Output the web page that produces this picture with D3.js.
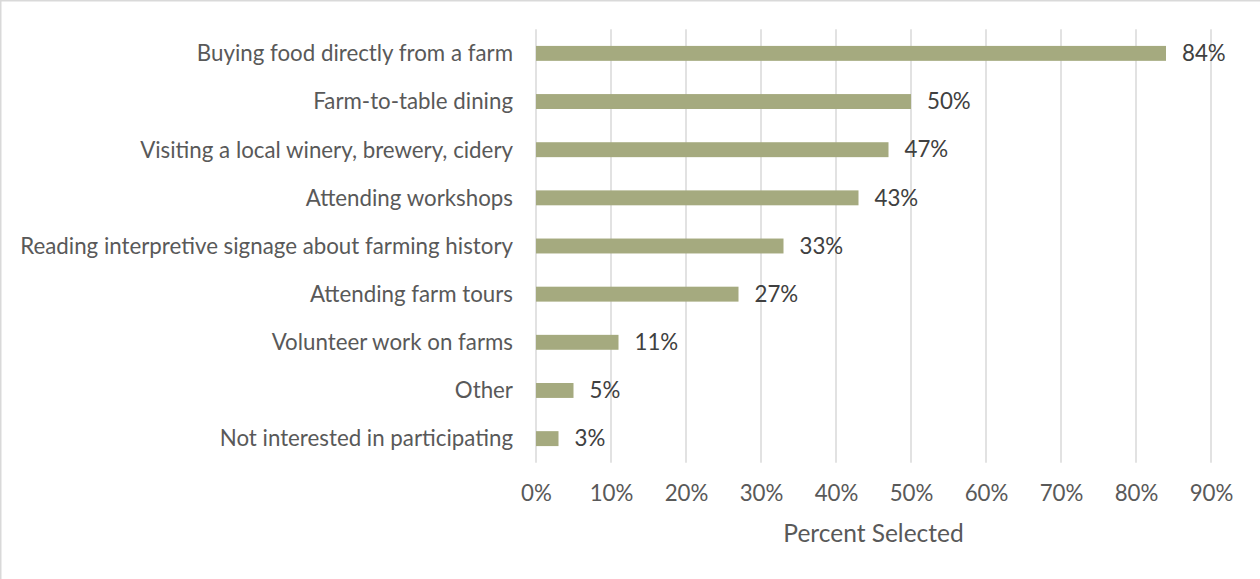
<!DOCTYPE html>
<html>
<head>
<meta charset="utf-8">
<script src="https://cdn.jsdelivr.net/npm/d3@7"></script>
<style>
  html, body { margin: 0; padding: 0; background: #fff; }
  svg { display: block; }
  text { font-family: Lato, "Open Sans", sans-serif; }
</style>
</head>
<body>
<svg id="chart" width="1260" height="579"></svg>
<script>
// Share of respondents selecting each agritourism activity
const categories = [
  "Buying food directly from a farm",
  "Farm-to-table dining",
  "Visiting a local winery, brewery, cidery",
  "Attending workshops",
  "Reading interpretive signage about farming history",
  "Attending farm tours",
  "Volunteer work on farms",
  "Other",
  "Not interested in participating"
];
const percentSelected = [84, 50, 47, 43, 33, 27, 11, 5, 3];
const tickValues = [0, 10, 20, 30, 40, 50, 60, 70, 80, 90];
const axisTitle = "Percent Selected";

const svg = d3.select("#chart");
const W = 1260, H = 579;
const labelFont = "22.3px";

// outer chart frame
svg.append("rect")
  .attr("x", 0.75).attr("y", 0.75)
  .attr("width", W + 20).attr("height", H + 20)
  .attr("fill", "#fff")
  .attr("stroke", "#d9d9d9").attr("stroke-width", 1.5);

const plot = { left: 536, right: 1211, top: 29.3, bottom: 462.7 };

const x = d3.scaleLinear().domain([0, 90]).range([plot.left, plot.right]);
const y = d3.scaleBand()
  .domain(categories)
  .range([plot.top, plot.bottom])
  .paddingInner(0.69)
  .paddingOuter(0.345);

// vertical gridlines
svg.append("g")
  .selectAll("line")
  .data(tickValues)
  .join("line")
  .attr("x1", d => x(d)).attr("x2", d => x(d))
  .attr("y1", plot.top).attr("y2", plot.bottom)
  .attr("stroke", "#d9d9d9").attr("stroke-width", 1.5);

// x tick labels
const xAxis = d3.axisBottom(x)
  .tickValues(tickValues)
  .tickFormat(d => d + "%")
  .tickSize(0)
  .tickPadding(0);
const gx = svg.append("g")
  .attr("transform", `translate(0, ${plot.bottom})`)
  .call(xAxis);
gx.select(".domain").remove();
gx.selectAll("text")
  .attr("y", 31)
  .attr("dy", "0.35em")
  .attr("fill", "#595959")
  .style("font-size", labelFont)
  .style("font-family", "Lato, 'Open Sans', sans-serif");

// category labels
const yAxis = d3.axisLeft(y).tickSize(0).tickPadding(0);
const gy = svg.append("g")
  .attr("transform", `translate(513, 0)`)
  .call(yAxis);
gy.select(".domain").remove();
gy.selectAll("text")
  .attr("x", 0)
  .attr("dy", "0.35em")
  .attr("fill", "#595959")
  .style("font-size", labelFont)
  .style("font-family", "Lato, 'Open Sans', sans-serif");

// bars
const rows = categories.map((c, i) => ({ cat: c, val: percentSelected[i] }));
svg.append("g")
  .selectAll("rect")
  .data(rows)
  .join("rect")
  .attr("x", x(0))
  .attr("y", d => y(d.cat))
  .attr("width", d => x(d.val) - x(0))
  .attr("height", y.bandwidth())
  .attr("fill", "#a5aa7f");

// value labels
svg.append("g")
  .selectAll("text")
  .data(rows)
  .join("text")
  .attr("x", d => x(d.val) + 16)
  .attr("y", d => y(d.cat) + y.bandwidth() / 2)
  .attr("dy", "0.35em")
  .attr("fill", "#404040")
  .style("font-size", labelFont)
  .text(d => d.val + "%");

// axis title
svg.append("text")
  .attr("x", (plot.left + plot.right) / 2)
  .attr("y", 533)
  .attr("dy", "0.35em")
  .attr("text-anchor", "middle")
  .attr("fill", "#595959")
  .style("font-size", "24.5px")
  .text(axisTitle);
</script>
</body>
</html>
